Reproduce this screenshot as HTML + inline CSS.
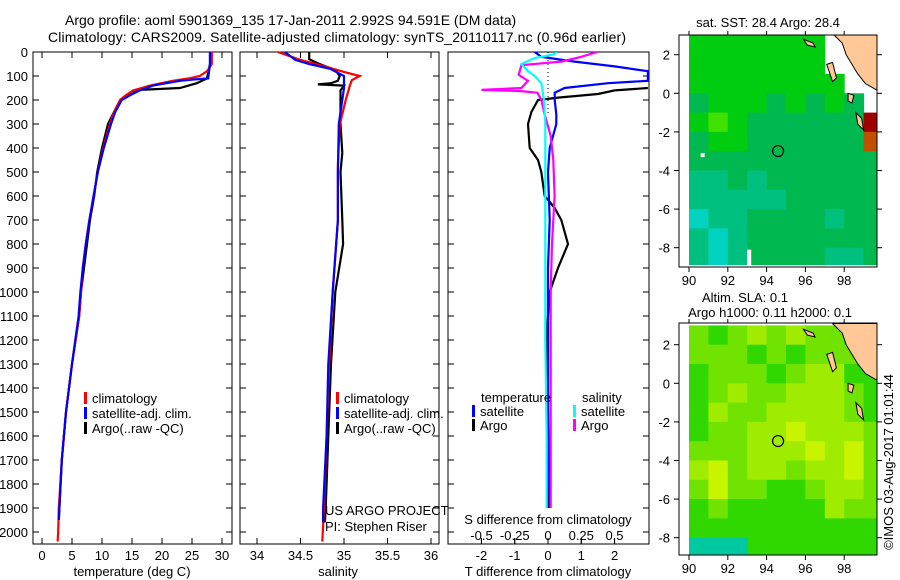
<!DOCTYPE html>
<html><head><meta charset="utf-8"><style>
body{margin:0;background:#fff;}
svg{display:block;font-family:"Liberation Sans",sans-serif;}
text{fill:#000;}
</style></head><body>
<svg id="chart" width="900" height="580" viewBox="0 0 900 580">
<text x="65" y="25" font-size="14">Argo profile: aoml 5901369_135 17-Jan-2011 2.992S 94.591E (DM data)</text>
<text x="48" y="42" font-size="14" textLength="578">Climatology: CARS2009. Satellite-adjusted climatology: synTS_20110117.nc (0.96d earlier)</text>
<g id="p1"></g>
<g id="p2"></g>
<g id="p3"></g>
<g id="m1"></g>
<g id="m2"></g>
<text transform="translate(893,462) rotate(-90)" font-size="13" text-anchor="middle">©IMOS 03-Aug-2017 01:01:44</text>
</svg>
<script>
// ---- profile data ----
const tempClimDepth=[0,50,80,100,110,120,140,160,180,200,250,300,400,500,600,700,800,900,1000,1100,1300,1500,1700,1900,2000,2040];
const tempClim=[28.3,28.3,27.5,26.3,24.5,21.8,18,15.2,14,13,12,11.3,10.2,9.3,8.6,7.9,7.3,6.8,6.5,6.2,5,4,3.3,2.8,2.7,2.6];
const tempSatDepth=[0,50,110,115,120,140,160,180,200,250,300,400,500,600,700,800,900,1000,1100,1300,1500,1700,1900,1950];
const tempSat=[28,28,27.7,25,23,18.5,16.3,14.7,13.3,12.2,11.5,10.3,9.3,8.6,7.9,7.3,6.8,6.4,6.1,5,4,3.3,2.9,2.8];
const tempArgoDepth=[0,50,110,130,150,158,165,180,200,250,300,400,500,600,700,800,900,1000,1100,1300,1500,1700,1900,1950];
const tempArgo=[28,28,27.5,25.8,23,16.3,15,14.1,13.1,12,11,10,9.2,8.7,8,7.5,7,6.5,6.2,5,4,3.3,2.9,2.8];

const salClimDepth=[0,10,33,54,83,100,117,137,200,304,470,700,1000,1300,1600,1900,2040];
const salClim=[34.24,34.32,34.5,34.72,35.0,35.18,35.09,35.07,35.02,34.95,34.93,34.93,34.87,34.83,34.8,34.77,34.75];
const salSatDepth=[0,33,50,70,100,120,150,200,300,500,700,1000,1300,1600,1900,1960];
const salSat=[34.32,34.44,34.6,34.84,35.0,35.0,35.0,34.98,34.94,34.93,34.93,34.87,34.82,34.8,34.76,34.76];
const salArgoDepth=[0,30,50,75,100,120,130,135,140,160,200,300,420,500,700,800,1000,1300,1600,1900,1960];
const salArgo=[34.6,34.6,34.72,34.9,34.95,34.93,34.85,34.7,35.0,34.96,34.96,34.96,34.98,34.96,34.98,34.99,34.9,34.85,34.82,34.79,34.78];

const tdSatDepth=[0,20,40,60,80,100,110,120,130,150,170,200,260,300,350,400,500,700,900,1200,1500,1900];
const tdSat=[-0.4,-0.2,0.8,2,3,3,3,3,1.8,0.5,0.2,0.2,0.25,0.25,0.15,0.05,0,0.05,0,0,0,0.05];
const tdArgoDepth=[150,160,175,190,200,250,300,400,450,500,600,650,700,800,900,1000,1200,1500,1900];
const tdArgo=[3,2,1.5,0.3,-0.3,-0.5,-0.6,-0.55,-0.3,-0.2,-0.1,0.2,0.4,0.6,0.3,0.05,-0.05,0,0];
const sdArgoDepth=[0,20,40,55,95,120,150,158,163,170,200,250,350,450,600,800,1000,1500,1900];
const sdArgo=[0.37,0.25,0.1,-0.2,-0.22,-0.15,-0.2,-0.5,-0.2,-0.08,-0.05,-0.03,0.02,0.04,0.05,0.03,0.02,0.02,0.02];
const sdSatDepth=[0,10,25,50,80,100,130,200,300,500,800,1200,1600,1900];
const sdSat=[0.07,0.04,-0.1,-0.2,-0.15,-0.1,-0.05,-0.03,-0.02,-0.02,-0.02,-0.02,-0.01,-0.01];

const depthTicks=[0,100,200,300,400,500,600,700,800,900,1000,1100,1200,1300,1400,1500,1600,1700,1800,1900,2000];
const tempTicks=[0,5,10,15,20,25,30];
const salTicks=[34,34.5,35,35.5,36];
const tdTicks=[-2,-1,0,1,2];
const sdTicks=[-0.5,-0.25,0,0.25,0.5];
const sdTickLabels=["-0.5","-0.25","0","0.25","0.5"];

// ---- map data (palette indices; -1 = no data) ----
const mapLons=[90,91,92,93,94,95,96,97,98,99];
const mapLats=[3,2,1,0,-1,-2,-3,-4,-5,-6,-7,-8];
const sstGrid=[
[3,3,3,3,3,3,3,-1,-1,-1],
[3,3,3,3,3,3,3,-1,-1,-1],
[3,3,3,3,3,3,3,3,-1,-1],
[2,3,3,3,2,3,2,3,2,-1],
[3,4,3,2,2,2,2,2,2,5],
[2,3,3,2,2,2,2,2,2,6],
[2,2,2,2,2,2,2,2,2,2],
[1,1,2,1,2,2,2,2,2,2],
[1,1,1,1,1,2,2,2,2,2],
[0,1,1,2,2,2,2,1,2,2],
[1,0,1,2,2,2,2,2,2,2],
[1,0,1,2,2,2,2,1,1,2]];
const slaGrid=[
[2,1,2,3,2,3,2,2,1,1],
[2,2,2,1,2,1,2,2,2,1],
[1,2,2,2,1,2,3,3,1,1],
[1,2,3,2,2,3,3,3,2,1],
[1,3,2,2,3,3,3,3,2,1],
[1,2,2,3,3,4,3,3,3,2],
[2,2,2,3,3,3,4,3,4,2],
[3,4,2,3,3,2,3,3,4,2],
[2,4,2,2,1,1,2,3,3,2],
[1,2,1,1,1,1,1,3,2,2],
[1,1,1,1,1,1,1,1,1,1],
[0,0,0,1,1,1,1,1,1,1]];
const mapTickLons=[90,92,94,96,98];
const mapTickLats=[2,0,-2,-4,-6,-8];
const floatLon=94.591, floatLat=-2.992;

const NS="http://www.w3.org/2000/svg";
function mk(p,tag,at){const e=document.createElementNS(NS,tag);for(const k in at)e.setAttribute(k,at[k]);p.appendChild(e);return e;}
const yD=d=>52+d*0.24;

function frame(g,x0,x1,name){
  const r=mk(g,'rect',{x:x0,y:52,width:x1-x0,height:492,fill:'none',stroke:'#000','stroke-width':1});
  
  
  depthTicks.forEach(d=>{
    mk(g,'line',{x1:x0,x2:x0+6,y1:yD(d),y2:yD(d),stroke:'#000'});
    mk(g,'line',{x1:x1,x2:x1-6,y1:yD(d),y2:yD(d),stroke:'#000'});
  });
}
function line(g,xs,ds,xf,color,name,w){
  const pts=xs.map((v,i)=>xf(v).toFixed(1)+','+yD(ds[i]).toFixed(1)).join(' ');
  const p=mk(g,'polyline',{points:pts,fill:'none',stroke:color,'stroke-width':w||2.2});
  
  
}
function xticks(g,ticks,labels,xf,y,top){
  ticks.forEach((t,i)=>{
    const x=xf(t);
    mk(g,'line',{x1:x,x2:x,y1:544,y2:538,stroke:'#000'});
    if(top) mk(g,'line',{x1:x,x2:x,y1:52,y2:58,stroke:'#000'});
    const tx=mk(g,'text',{x:x,y:y,'font-size':13,'text-anchor':'middle'});tx.textContent=labels[i];
    
    
  });
}
function txt(g,x,y,s,name,size,anchor){const t=mk(g,'text',{x:x,y:y,'font-size':size||13,'text-anchor':anchor||'start'});t.textContent=s;return t;}
function legend(g,x,y,color,label,name){
  const r=mk(g,'rect',{x:x,y:y-11,width:3,height:12,fill:color});
  
  
  txt(g,x+8,y,label,name);
}

// Panel 1 temperature
const p1=document.getElementById('p1');
const xT=v=>42+v*6;
frame(p1,33,232,'temperature-plot-frame');
depthTicks.forEach(d=>{txt(p1,28,yD(d)+5,String(d),'y-tick-label',13,'end');});
xticks(p1,tempTicks,tempTicks.map(String),xT,560,true);
txt(p1,132,576,'temperature (deg C)','temperature-axis-title',13,'middle');
line(p1,tempArgo,tempArgoDepth,xT,'#000','temp-argo-line');
line(p1,tempClim,tempClimDepth,xT,'#f00','temp-climatology-line');
line(p1,tempSat,tempSatDepth,xT,'#00f','temp-satellite-line');
legend(p1,84,403,'#f00','climatology','legend-climatology');
legend(p1,84,418,'#00f','satellite-adj. clim.','legend-satellite');
legend(p1,84,433,'#000','Argo(..raw -QC)','legend-argo');

// Panel 2 salinity
const p2=document.getElementById('p2');
const xS=v=>257+(v-34)*87;
frame(p2,240,439,'salinity-plot-frame');
xticks(p2,salTicks,salTicks.map(String),xS,560,true);
txt(p2,338,576,'salinity','salinity-axis-title',13,'middle');
line(p2,salArgo,salArgoDepth,xS,'#000','sal-argo-line');
line(p2,salClim,salClimDepth,xS,'#f00','sal-climatology-line');
line(p2,salSat,salSatDepth,xS,'#00f','sal-satellite-line');
legend(p2,336,403,'#f00','climatology','legend-climatology-2');
legend(p2,336,418,'#00f','satellite-adj. clim.','legend-satellite-2');
legend(p2,336,433,'#000','Argo(..raw -QC)','legend-argo-2');
txt(p2,325,515,'US ARGO PROJECT','project-label',13);
txt(p2,325,531,'PI: Stephen Riser','pi-label',13);

// Panel 3 differences
const p3=document.getElementById('p3');
const xTd=v=>548+v*33.3;
const xSd=v=>548+v*133;
const clip=mk(document.querySelector('svg'),'clipPath',{id:'c3'});
mk(clip,'rect',{x:448,y:52,width:201,height:492});
frame(p3,448,649,'difference-plot-frame');
mk(p3,'line',{x1:548,x2:548,y1:52,y2:yD(260),stroke:'#000','stroke-dasharray':'1,3'});
xticks(p3,tdTicks,tdTicks.map(String),xTd,560,false);
txt(p3,548,576,'T difference from climatology','t-diff-axis-title',13,'middle');
sdTicks.forEach((t,i)=>{const x=xSd(t);mk(p3,'line',{x1:x,x2:x,y1:544,y2:538,stroke:'#000'});txt(p3,x,540,sdTickLabels[i],'s-diff-tick-label',13,'middle');});
txt(p3,548,524,'S difference from climatology','s-diff-axis-title',13,'middle');
const g3=mk(p3,'g',{'clip-path':'url(#c3)'});
line(g3,tdArgo,tdArgoDepth,xTd,'#000','tdiff-argo-line');
line(g3,tdSat,tdSatDepth,xTd,'#00f','tdiff-satellite-line');
line(g3,sdArgo,sdArgoDepth,xSd,'#f0f','sdiff-argo-line');
line(g3,sdSat,sdSatDepth,xSd,'#0ff','sdiff-satellite-line');
txt(p3,481,402,'temperature','legend-temperature-heading');
txt(p3,582,402,'salinity','legend-salinity-heading');
legend(p3,472,416,'#00f','satellite','legend-t-satellite');
legend(p3,472,430,'#000','Argo','legend-t-argo');
legend(p3,573,416,'#0ff','satellite','legend-s-satellite');
legend(p3,573,430,'#f0f','Argo','legend-s-argo');

// Maps
const sstPal=['#00d4c0','#00c080','#00b850','#00cc10','#40e000','#a00000','#c05000'];
const slaPal=['#00c8a0','#30d800','#70e400','#a0ec00','#c8f400'];
function drawMap(g,top,lat0y,grid,pal,nameP){
  const lx=v=>689+(v-90)*19.4, ly=v=>lat0y-v*19.3;
  const bot=top+232;
  const id='clip'+nameP;
  const c=mk(document.querySelector('svg'),'clipPath',{id:id});
  mk(c,'rect',{x:679,y:top,width:198,height:232});
  const gg=mk(g,'g',{'clip-path':'url(#'+id+')'});
  grid.forEach((row,i)=>row.forEach((v,j)=>{
    if(v<0) return;
    const x=lx(mapLons[j]), y=ly(mapLats[i]);
    const r=mk(gg,'rect',{x:x.toFixed(1),y:y.toFixed(1),width:19.9,height:Math.min(19.8,ly(-8.9)-y).toFixed(1),fill:pal[v]});
    
    
  }));
  const land=[[97.4,3.1],[97.9,2.6],[98.1,2.0],[98.7,1.0],[99.1,0.5],[99.8,0.1],[99.8,3.1]];
  const lp=mk(gg,'polygon',{points:land.map(p=>lx(p[0])+','+ly(p[1])).join(' '),fill:'#ffc896',stroke:'#000','stroke-width':1});
  
  
  const isl=[[[95.9,2.8],[96.4,2.6],[96.5,2.4],[96.1,2.5]],[[97.1,1.5],[97.4,1.6],[97.6,0.8],[97.4,0.6]],[[98.6,-1.0],[98.9,-1.3],[99.0,-1.9],[98.7,-1.6]],[[98.2,0.0],[98.5,-0.1],[98.4,-0.5],[98.2,-0.4]]];
  isl.forEach(s=>{const e=mk(gg,'polygon',{points:s.map(p=>lx(p[0])+','+ly(p[1])).join(' '),fill:'#ffc896',stroke:'#000','stroke-width':1});});
  const fr=mk(g,'rect',{x:679,y:top,width:198,height:232,fill:'none',stroke:'#000'});
  
  
  mapTickLons.forEach(v=>{const x=lx(v);mk(g,'line',{x1:x,x2:x,y1:bot,y2:bot+5,stroke:'#000'});mk(g,'line',{x1:x,x2:x,y1:top,y2:top-4,stroke:'#000'});txt(g,x,bot+18,String(v),'lon-tick-label',13,'middle');});
  mapTickLats.forEach(v=>{const y=ly(v);mk(g,'line',{x1:679,x2:674,y1:y,y2:y,stroke:'#000'});mk(g,'line',{x1:877,x2:882,y1:y,y2:y,stroke:'#000'});txt(g,670,y+5,String(v),'lat-tick-label',13,'end');});
  const c2=mk(g,'circle',{cx:lx(floatLon),cy:ly(floatLat),r:5.5,fill:'none',stroke:'#000','stroke-width':1.2});
  
  
}
const m1=document.getElementById('m1');
drawMap(m1,35,93.3,sstGrid,sstPal,'sst-map');
mk(m1,'rect',{x:689+3*19.4,y:93.3+8.1*19.3,width:4,height:0.85*19.3,fill:'#fff'});
mk(m1,'rect',{x:689+0.6*19.4,y:93.3+3.1*19.3,width:4,height:4,fill:'#fff'});
txt(m1,768,27,'sat. SST: 28.4  Argo: 28.4','sst-map-title',13,'middle');
const m2=document.getElementById('m2');
drawMap(m2,323,383.3,slaGrid,slaPal,'sla-map');
txt(m2,745,302,'Altim. SLA: 0.1','sla-map-title',13,'middle');
txt(m2,770,317,'Argo h1000: 0.11 h2000: 0.1','sla-map-subtitle',13,'middle');
</script>
</body></html>
